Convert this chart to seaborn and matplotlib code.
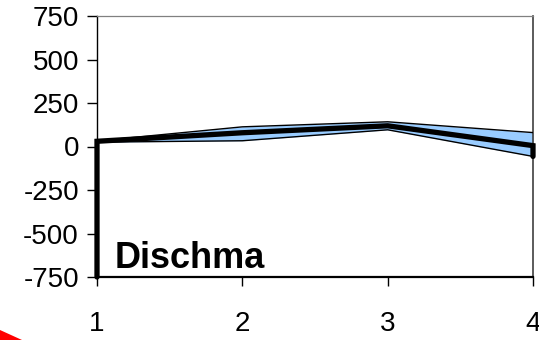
import matplotlib
matplotlib.use("Agg")
import matplotlib.pyplot as plt
import seaborn as sns
import pandas as pd
from matplotlib.patches import Polygon

# Series values
steps = [1, 2, 3, 4]
upper = [32, 113, 142, 80]
lower = [25, 33, 96, -57]
mean_x = [1, 1, 2, 3, 4, 4]
mean_y = [-750, 30, 79, 119, 5, -57]
y_ticks = [-750, -500, -250, 0, 250, 500, 750]
site = "Dischma"

sns.set_style("white")
plt.rcParams["font.family"] = ["Liberation Sans", "DejaVu Sans"]
plt.rcParams["axes.unicode_minus"] = False
plt.rcParams["text.color"] = "black"
plt.rcParams["xtick.color"] = "black"
plt.rcParams["ytick.color"] = "black"

fig = plt.figure(figsize=(5.39, 3.40), dpi=100)
ax = fig.add_axes([97 / 539, 1 - 277 / 340, 436 / 539, 261 / 340])

band = pd.DataFrame({"step": steps, "upper": upper, "lower": lower})
ax.fill_between(band["step"], band["lower"], band["upper"],
                color="#99CCFF", linewidth=0, zorder=2)
sns.lineplot(data=band, x="step", y="upper", ax=ax, color="black",
             linewidth=1.0, zorder=3)
sns.lineplot(data=band, x="step", y="lower", ax=ax, color="black",
             linewidth=1.0, zorder=3)

mean_df = pd.DataFrame({"step": mean_x, "value": mean_y})
sns.lineplot(data=mean_df, x="step", y="value", ax=ax, color="black",
             linewidth=3.8, sort=False, estimator=None, zorder=4,
             clip_on=False, solid_joinstyle="miter")

ax.set_xlim(1, 4)
ax.set_ylim(-750, 750)
ax.set_xticks(steps)
ax.set_yticks(y_ticks)
ax.set_xlabel("")
ax.set_ylabel("")

ax.tick_params(axis="y", direction="out", length=7, width=1, color="black",
               labelcolor="black", labelsize=20, pad=6, left=True)
ax.tick_params(axis="x", direction="out", length=6.5, width=1, color="black",
               labelcolor="black", labelsize=20, pad=18, bottom=True)

ax.spines["left"].set_color("black")
ax.spines["left"].set_linewidth(1.0)
ax.spines["bottom"].set_color("black")
ax.spines["bottom"].set_linewidth(1.6)
ax.spines["top"].set_color("#808080")
ax.spines["top"].set_linewidth(0.9)
ax.spines["right"].set_color("#404040")
ax.spines["right"].set_linewidth(1.2)

ax.text(0.041, 0.034, site, transform=ax.transAxes, fontsize=26,
        fontweight="bold", color="black", ha="left", va="baseline", zorder=5)

# red corner marker
fig.patches.append(Polygon([(0, 10 / 340), (22 / 539, 0), (0, 0)],
                           closed=True, facecolor="#FF0000", edgecolor="none",
                           transform=fig.transFigure, figure=fig))

fig.savefig("out.png", dpi=100)
